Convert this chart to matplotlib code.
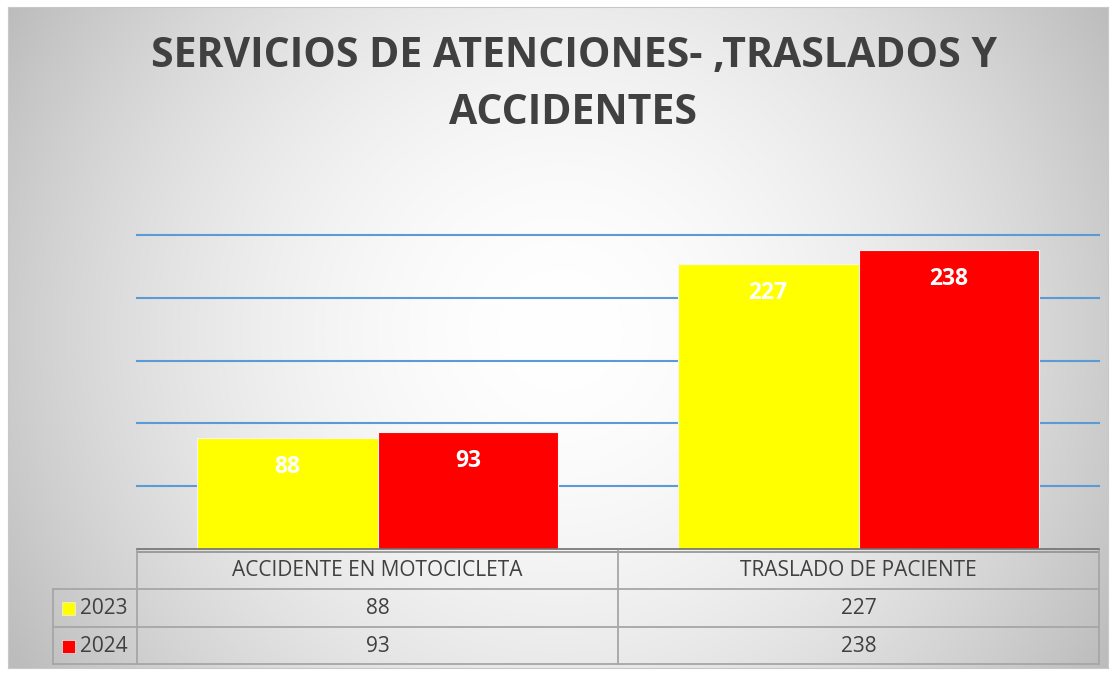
from matplotlib import pyplot as plt
from matplotlib.patches import Rectangle
import numpy as np

categories = ['ACCIDENTE EN MOTOCICLETA', 'TRASLADO DE PACIENTE']
years = ['2023', '2024']
values_2023 = [88, 227]
values_2024 = [93, 238]
colors = ['#ffff00', '#ff0000']

W, H = 1115, 673


def px_box(x0, y0, x1, y1):
    # pixel box (top-left origin) -> figure fraction rect
    return [x0 / W, 1 - y1 / H, (x1 - x0) / W, (y1 - y0) / H]


def draw_chart():
    plt.rcParams['font.family'] = ['Open Sans', 'DejaVu Sans']
    fig = plt.figure(figsize=(W / 100, H / 100), dpi=100)

    # radial gradient background of the chart area
    bg = fig.add_axes(px_box(8, 7, 1108, 668))
    yy, xx = np.mgrid[7:668, 8:1108]
    r = np.sqrt(((xx - 560) / 610.0) ** 2 + ((yy - 330) / 600.0) ** 2)
    g = 1.0 - 0.24 * np.clip(r, 0, 1.05) ** 1.8
    bg.imshow(np.dstack([g, g, g]), aspect='auto', interpolation='bilinear')
    bg.set_xticks([])
    bg.set_yticks([])
    for s in bg.spines.values():
        s.set_color('#c8c8c8')

    fig.text(574 / W, 1 - 56 / H, 'SERVICIOS DE ATENCIONES- ,TRASLADOS Y',
             ha='center', va='center', fontsize=29.5, fontweight='bold', color='#404040')
    fig.text(573 / W, 1 - 114 / H, 'ACCIDENTES',
             ha='center', va='center', fontsize=29.5, fontweight='bold', color='#404040')

    # bars
    ax = fig.add_axes(px_box(137, 235, 1099, 549))
    ax.patch.set_alpha(0)
    x = np.arange(len(categories))
    w = 0.376
    for i, (vals, c) in enumerate(zip([values_2023, values_2024], colors)):
        bars = ax.bar(x + (i - 0.5) * w, vals, w, color=c, edgecolor='#f4f4f4',
                      linewidth=0.8, zorder=3)
        for b, v in zip(bars, vals):
            ax.text(b.get_x() + b.get_width() / 2, v - 23, str(v), ha='center',
                    va='center', color='white', fontsize=16.5, fontweight='bold', zorder=4)
    ax.set_xlim(-0.5, 1.5)
    ax.set_ylim(0, 250)
    for yv in range(50, 251, 50):
        ax.axhline(yv, color='#5b9bd5', linewidth=1.5, zorder=1, clip_on=False)
    ax.set_xticks([])
    ax.set_yticks([])
    for s in ax.spines.values():
        s.set_visible(False)

    # data table
    tb = fig.add_axes(px_box(40, 545, 1105, 670))
    tb.set_xlim(40, 1105)
    tb.set_ylim(670, 545)
    tb.axis('off')
    tb.patch.set_alpha(0)
    lc = '#a6a6a6'
    tb.plot([137, 1099], [549, 549], color='#707070', lw=1.2)
    tb.plot([137, 1099], [551.5, 551.5], color='#909090', lw=1.2)
    for yv in [589, 627, 664]:
        tb.plot([53, 1099], [yv, yv], color=lc, lw=1.3)
    tb.plot([53, 53], [589, 664], color=lc, lw=1.3)
    for xv in [137, 618, 1099]:
        tb.plot([xv, xv], [551, 664], color=lc, lw=1.3)
    col_c = [377.5, 858.5]
    for cx, cat in zip(col_c, categories):
        tb.text(cx, 571, cat, ha='center', va='center', fontsize=15, color='#404040')
    rows = [values_2023, values_2024]
    for j, (yr, vals, c) in enumerate(zip(years, rows, colors)):
        yc = 608 + j * 38
        tb.add_patch(Rectangle((62, yc - 6.5), 13, 13, facecolor=c, edgecolor='#f0f0f0', lw=0.5))
        tb.text(80, yc, yr, ha='left', va='center', fontsize=15, color='#404040')
        for cx, v in zip(col_c, vals):
            tb.text(cx, yc, str(v), ha='center', va='center', fontsize=15, color='#404040')

    fig.savefig('out.png', dpi=100)


if __name__ == '__main__':
    draw_chart()
